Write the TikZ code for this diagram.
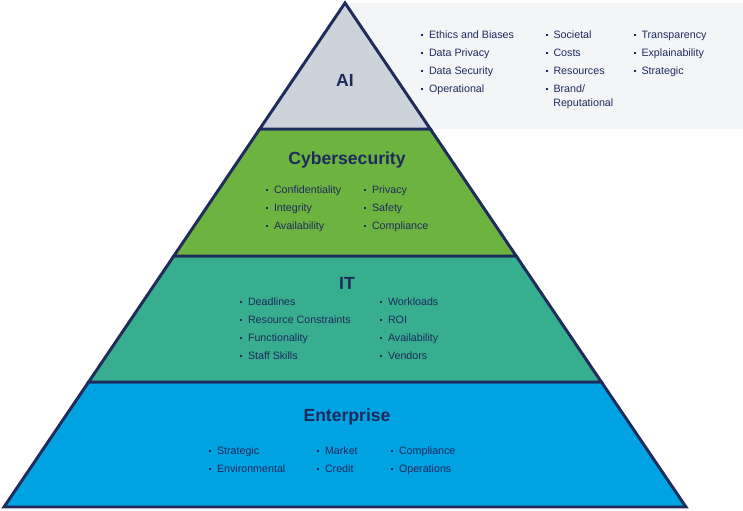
\documentclass[tikz,border=0pt]{standalone}
\usepackage{fontspec}
\setmainfont{Liberation Sans}
\usepackage{xcolor}
\definecolor{navyline}{HTML}{1F2B5B}
\definecolor{navytext}{HTML}{1F2A5C}
\definecolor{aigray}{HTML}{CDD3DB}
\definecolor{cybergreen}{HTML}{6CB33F}
\definecolor{itteal}{HTML}{36AE8F}
\definecolor{entblue}{HTML}{00A3E2}
\definecolor{panelgray}{HTML}{F4F5F7}
\newcommand{\bul}{\rule[1.9pt]{1.3pt}{1.3pt}\hspace{4.2pt}}
\tikzset{
    % Pyramid layers
    layer/.style={
        draw=navyline, line width=2.1pt, line join=miter
    },
    % Layer titles
    layer title/.style={
        font=\fontsize{12.5}{14}\selectfont\bfseries, text=navytext, inner sep=0pt
    },
    % Bullet items
    risk item/.style={
        anchor=base west, font=\fontsize{7.6}{9}\selectfont, text=navytext, inner sep=0pt
    }
}
\begin{document}
\begin{tikzpicture}[x=0.025cm, y=0.025cm]
    \useasboundingbox (0,0) rectangle (743,511);

    % Side panel for the AI layer
    \fill[panelgray] (345,382) rectangle (743,508);

    % ======== PYRAMID ========
    \draw[layer, fill=entblue] (88.6,129) -- (601.4,129) -- (686,4) -- (4,4) -- cycle;
    \draw[layer, fill=itteal] (173.8,255) -- (516.2,255) -- (601.4,129) -- (88.6,129) -- cycle;
    \draw[layer, fill=cybergreen] (259.7,382) -- (430.3,382) -- (516.2,255) -- (173.8,255) -- cycle;
    \draw[layer, fill=aigray] (345,508) -- (430.3,382) -- (259.7,382) -- cycle;

    % ======== AI ========
    \node[layer title] (ai) at (345,431) {AI};
    \node[risk item] (ai1) at (421,472) {\bul Ethics and Biases};
    \node[risk item] (ai2) at (421,454) {\bul Data Privacy};
    \node[risk item] (ai3) at (421,436) {\bul Data Security};
    \node[risk item] (ai4) at (421,418) {\bul Operational};
    \node[risk item] (ai5) at (545.5,472) {\bul Societal};
    \node[risk item] (ai6) at (545.5,454) {\bul Costs};
    \node[risk item] (ai7) at (545.5,436) {\bul Resources};
    \node[risk item] (ai8) at (545.5,418) {\bul Brand/};
    \node[risk item] (ai9) at (553,404) {Reputational};
    \node[risk item] (ai10) at (633.5,472) {\bul Transparency};
    \node[risk item] (ai11) at (633.5,454) {\bul Explainability};
    \node[risk item] (ai12) at (633.5,436) {\bul Strategic};

    % ======== CYBERSECURITY ========
    \node[layer title] (cyber) at (347,351) {Cybersecurity};
    \node[risk item] (cy1) at (266,317) {\bul Confidentiality};
    \node[risk item] (cy2) at (266,299) {\bul Integrity};
    \node[risk item] (cy3) at (266,281) {\bul Availability};
    \node[risk item] (cy4) at (364,317) {\bul Privacy};
    \node[risk item] (cy5) at (364,299) {\bul Safety};
    \node[risk item] (cy6) at (364,281) {\bul Compliance};

    % ======== IT ========
    \node[layer title] (it) at (347,228) {IT};
    \node[risk item] (it1) at (240,205) {\bul Deadlines};
    \node[risk item] (it2) at (240,187) {\bul Resource Constraints};
    \node[risk item] (it3) at (240,169) {\bul Functionality};
    \node[risk item] (it4) at (240,151) {\bul Staff Skills};
    \node[risk item] (it5) at (380,205) {\bul Workloads};
    \node[risk item] (it6) at (380,187) {\bul ROI};
    \node[risk item] (it7) at (380,169) {\bul Availability};
    \node[risk item] (it8) at (380,151) {\bul Vendors};

    % ======== ENTERPRISE ========
    \node[layer title] (ent) at (347,94) {Enterprise};
    \node[risk item] (en1) at (209,56) {\bul Strategic};
    \node[risk item] (en2) at (209,38) {\bul Environmental};
    \node[risk item] (en3) at (317,56) {\bul Market};
    \node[risk item] (en4) at (317,38) {\bul Credit};
    \node[risk item] (en5) at (391,56) {\bul Compliance};
    \node[risk item] (en6) at (391,38) {\bul Operations};

\end{tikzpicture}
\end{document}
